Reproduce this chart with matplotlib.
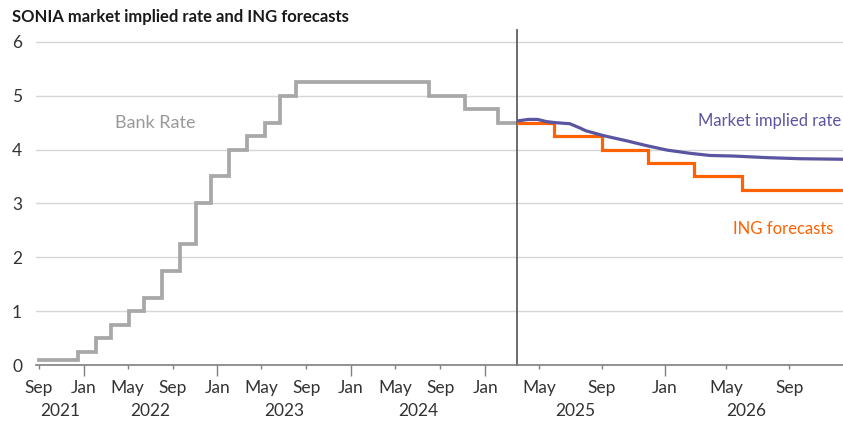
import matplotlib
matplotlib.use("Agg")
import matplotlib.pyplot as plt
import matplotlib.dates as mdates
import pandas as pd

plt.rcParams['font.family'] = ['Lato', 'DejaVu Sans']

# Bank Rate history (policy rate step changes, %)
bank_dates = ["2021-09-01", "2021-12-16", "2022-02-03", "2022-03-17", "2022-05-05",
              "2022-06-16", "2022-08-04", "2022-09-22", "2022-11-03", "2022-12-15",
              "2023-02-02", "2023-03-23", "2023-05-11", "2023-06-22", "2023-08-03",
              "2024-08-01", "2024-11-07", "2025-02-06", "2025-03-29"]
bank_rate = [0.10, 0.25, 0.50, 0.75, 1.00, 1.25, 1.75, 2.25, 3.00, 3.50,
             4.00, 4.25, 4.50, 5.00, 5.25, 5.00, 4.75, 4.50, 4.50]

# SONIA market implied path (%)
market_dates = ["2025-03-19", "2025-04-10", "2025-04-28", "2025-05-15", "2025-06-01",
                "2025-06-30", "2025-07-20", "2025-07-31", "2025-09-03", "2025-10-20",
                "2025-11-28", "2026-01-06", "2026-02-20", "2026-03-31", "2026-05-15",
                "2026-07-20", "2026-09-22", "2026-12-15"]
market_rate = [4.53, 4.56, 4.56, 4.52, 4.50, 4.48, 4.40, 4.35, 4.26, 4.16,
               4.07, 3.99, 3.93, 3.89, 3.88, 3.85, 3.83, 3.82]

# ING Bank Rate forecasts (%)
ing_dates = ["2025-03-19", "2025-05-31", "2025-08-31", "2025-11-30",
             "2026-02-28", "2026-05-31", "2026-12-15"]
ing_rate = [4.50, 4.25, 4.00, 3.75, 3.50, 3.25, 3.25]

hist_ticks = ["2021-09-01", "2022-01-01", "2022-05-01", "2022-09-01", "2023-01-01",
              "2023-05-01", "2023-09-01", "2024-01-01", "2024-05-01", "2024-09-01",
              "2025-01-01"]
fcst_ticks = ["2025-05-01", "2025-09-01", "2026-01-01", "2026-05-01", "2026-09-01"]
years = ["2021", "2022", "2023", "2024", "2025", "2026"]

GREY = "#a8a8a8"
PURPLE = "#5a55a0"
ORANGE = "#ff6200"
GRID = "#d6d6d6"
TXT = "#333333"
FS = 12.5

W, H = 843, 423
fig = plt.figure(figsize=(W / 100, H / 100), dpi=100)

bottom = 58 / H
height = 335 / H
ax1 = fig.add_axes([36 / W, bottom, (517 - 36) / W, height])
ax2 = fig.add_axes([517 / W, bottom, (843 - 517) / W, height])

ax1.set_xlim(pd.Timestamp("2021-08-24"), pd.Timestamp("2025-03-29"))
ax2.set_xlim(pd.Timestamp("2025-03-19"), pd.Timestamp("2026-12-15"))

for ax in (ax1, ax2):
    ax.set_ylim(0, 6.22)
    ax.set_yticks(range(0, 7))
    ax.grid(axis='y', color=GRID, lw=1.0)
    ax.set_axisbelow(True)
    for s in ("top", "right", "left"):
        ax.spines[s].set_visible(False)
    ax.spines["bottom"].set_color("#808080")
    ax.spines["bottom"].set_linewidth(1.2)
    ax.tick_params(axis='x', colors="#808080", length=3, width=1.0,
                   labelcolor=TXT, labelsize=FS, pad=7.5)
    ax.tick_params(axis='y', length=0, labelcolor=TXT, labelsize=FS, pad=10)

ax2.spines["left"].set_visible(True)
ax2.spines["left"].set_color("#606060")
ax2.spines["left"].set_linewidth(1.3)
ax2.set_yticklabels([])

# step series
ax1.plot(pd.to_datetime(bank_dates), bank_rate, drawstyle='steps-post',
         color=GREY, lw=2.7, solid_joinstyle='miter')
ax2.plot(pd.to_datetime(ing_dates), ing_rate, drawstyle='steps-post',
         color=ORANGE, lw=2.3, solid_joinstyle='miter', zorder=3)
ax2.plot(pd.to_datetime(market_dates), market_rate,
         color=PURPLE, lw=2.3, zorder=4)

# month tick labels
def set_month_ticks(ax, dates):
    dts = pd.to_datetime(dates)
    ax.set_xticks(dts)
    ax.set_xticklabels([d.strftime("%b") for d in dts])
    for tick, d in zip(ax.xaxis.get_major_ticks(), dts):
        if d.month == 1:
            tick.tick1line.set_markersize(8)

set_month_ticks(ax1, hist_ticks)
set_month_ticks(ax2, fcst_ticks)

# year labels centred under each visible year span
fig.canvas.draw()
def to_px(ax, date):
    return ax.transData.transform((mdates.date2num(pd.Timestamp(date)), 0))[0]

left_px = ax1.transData.transform((ax1.get_xlim()[0], 0))[0]
right_px = ax2.transData.transform((ax2.get_xlim()[1], 0))[0]
bounds = {
    "2021": (left_px, to_px(ax1, "2022-01-01")),
    "2022": (to_px(ax1, "2022-01-01"), to_px(ax1, "2023-01-01")),
    "2023": (to_px(ax1, "2023-01-01"), to_px(ax1, "2024-01-01")),
    "2024": (to_px(ax1, "2024-01-01"), to_px(ax1, "2025-01-01")),
    "2025": (to_px(ax1, "2025-01-01"), to_px(ax2, "2026-01-01")),
    "2026": (to_px(ax2, "2026-01-01"), right_px - 15),
}
for y in years:
    a, b = bounds[y]
    fig.text((a + b) / 2 / W, (H - 411) / H, y, ha='center', va='center',
             fontsize=FS, color=TXT)

# series labels
ax1.text(pd.Timestamp("2022-07-15"), 4.5, "Bank Rate", ha='center', va='center',
         fontsize=13, color="#999999")
ax2.text(0.994, 4.53, "Market implied rate", transform=ax2.get_yaxis_transform(),
         ha='right', va='center', fontsize=12, color=PURPLE)
ax2.text(0.969, 2.53, "ING forecasts", transform=ax2.get_yaxis_transform(),
         ha='right', va='center', fontsize=12, color=ORANGE)

fig.text(12 / W, (H - 17) / H, "SONIA market implied rate and ING forecasts",
         ha='left', va='center', fontsize=12, fontweight='bold', color="#1a1a1a")

fig.savefig("out.png", dpi=100)
